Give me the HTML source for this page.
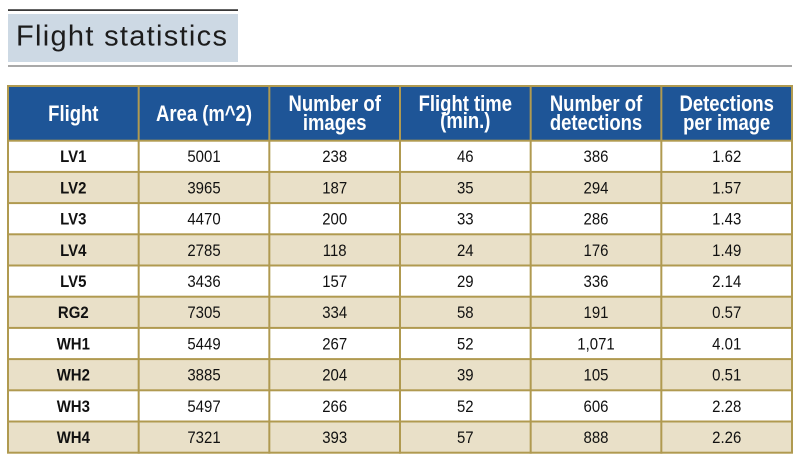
<!DOCTYPE html>
<html>
<head>
<meta charset="utf-8">
<style>
  html,body{margin:0;padding:0;background:#ffffff;}
  body{width:800px;height:461px;overflow:hidden;}
  svg{display:block;}
  .h{font-family:"Liberation Sans",Arial,sans-serif;font-weight:bold;font-size:22px;fill:#ffffff;}
  .b{font-family:"Liberation Sans",Arial,sans-serif;font-size:17px;fill:#111111;}
  .f{font-family:"Liberation Sans",Arial,sans-serif;font-weight:bold;font-size:17px;fill:#111111;}
  .t{font-family:"Liberation Sans",Arial,sans-serif;font-size:29px;fill:#1c1c1c;letter-spacing:1.3px;}
</style>
</head>
<body>
<svg width="800" height="461" viewBox="0 0 800 461" xmlns="http://www.w3.org/2000/svg">
  <!-- title -->
  <rect x="8" y="9.3" width="230" height="1.6" fill="#222222"/>
  <rect x="8" y="14" width="230" height="48" fill="#cdd9e4"/>
  <text class="t" x="16" y="45.5">Flight statistics</text>
  <rect x="8" y="65" width="784" height="2" fill="#a9a9a9"/>

  <!-- table background (gold grid) -->
  <rect x="7" y="85" width="786" height="368.7" fill="#b09a50"/>
  <!-- header -->
  <rect x="9" y="87" width="782" height="52.7" fill="#1e5597"/>
  <!-- rows -->
  <rect x="9" y="141.7" width="782" height="29.2" fill="#ffffff"/>
  <rect x="9" y="172.9" width="782" height="29.2" fill="#e9e0c8"/>
  <rect x="9" y="204.1" width="782" height="29.2" fill="#ffffff"/>
  <rect x="9" y="235.3" width="782" height="29.2" fill="#e9e0c8"/>
  <rect x="9" y="266.5" width="782" height="29.2" fill="#ffffff"/>
  <rect x="9" y="297.7" width="782" height="29.2" fill="#e9e0c8"/>
  <rect x="9" y="328.9" width="782" height="29.2" fill="#ffffff"/>
  <rect x="9" y="360.1" width="782" height="29.2" fill="#e9e0c8"/>
  <rect x="9" y="391.3" width="782" height="29.2" fill="#ffffff"/>
  <rect x="9" y="422.5" width="782" height="29.2" fill="#e9e0c8"/>
  <!-- vertical lines -->
  <rect x="137.67" y="85" width="2" height="368.7" fill="#b09a50"/>
  <rect x="268.33" y="85" width="2" height="368.7" fill="#b09a50"/>
  <rect x="399" y="85" width="2" height="368.7" fill="#b09a50"/>
  <rect x="529.67" y="85" width="2" height="368.7" fill="#b09a50"/>
  <rect x="660.33" y="85" width="2" height="368.7" fill="#b09a50"/>

  <!-- header text -->
  <text class="h" text-anchor="middle" transform="translate(73.3,121) scale(0.84,1)">Flight</text>
  <text class="h" text-anchor="middle" transform="translate(204,121) scale(0.84,1)">Area (m^2)</text>
  <text class="h" text-anchor="middle" transform="translate(334.7,111) scale(0.84,1)">Number of</text>
  <text class="h" text-anchor="middle" transform="translate(334.7,130) scale(0.84,1)">images</text>
  <text class="h" text-anchor="middle" transform="translate(465.3,111) scale(0.84,1)">Flight time</text>
  <text class="h" text-anchor="middle" transform="translate(465.3,128) scale(0.84,1)">(min.)</text>
  <text class="h" text-anchor="middle" transform="translate(596,111) scale(0.84,1)">Number of</text>
  <text class="h" text-anchor="middle" transform="translate(596,130) scale(0.84,1)">detections</text>
  <text class="h" text-anchor="middle" transform="translate(726.7,111) scale(0.84,1)">Detections</text>
  <text class="h" text-anchor="middle" transform="translate(726.7,130) scale(0.84,1)">per image</text>

  <g>
  <text class="f" text-anchor="middle" transform="translate(73.3,162.2) scale(0.88,1)">LV1</text>
  <text class="b" text-anchor="middle" transform="translate(204,162.2) scale(0.88,1)">5001</text>
  <text class="b" text-anchor="middle" transform="translate(334.7,162.2) scale(0.88,1)">238</text>
  <text class="b" text-anchor="middle" transform="translate(465.3,162.2) scale(0.88,1)">46</text>
  <text class="b" text-anchor="middle" transform="translate(596,162.2) scale(0.88,1)">386</text>
  <text class="b" text-anchor="middle" transform="translate(726.7,162.2) scale(0.88,1)">1.62</text>
  </g>
  <g>
  <text class="f" text-anchor="middle" transform="translate(73.3,193.4) scale(0.88,1)">LV2</text>
  <text class="b" text-anchor="middle" transform="translate(204,193.4) scale(0.88,1)">3965</text>
  <text class="b" text-anchor="middle" transform="translate(334.7,193.4) scale(0.88,1)">187</text>
  <text class="b" text-anchor="middle" transform="translate(465.3,193.4) scale(0.88,1)">35</text>
  <text class="b" text-anchor="middle" transform="translate(596,193.4) scale(0.88,1)">294</text>
  <text class="b" text-anchor="middle" transform="translate(726.7,193.4) scale(0.88,1)">1.57</text>
  </g>
  <g>
  <text class="f" text-anchor="middle" transform="translate(73.3,224.6) scale(0.88,1)">LV3</text>
  <text class="b" text-anchor="middle" transform="translate(204,224.6) scale(0.88,1)">4470</text>
  <text class="b" text-anchor="middle" transform="translate(334.7,224.6) scale(0.88,1)">200</text>
  <text class="b" text-anchor="middle" transform="translate(465.3,224.6) scale(0.88,1)">33</text>
  <text class="b" text-anchor="middle" transform="translate(596,224.6) scale(0.88,1)">286</text>
  <text class="b" text-anchor="middle" transform="translate(726.7,224.6) scale(0.88,1)">1.43</text>
  </g>
  <g>
  <text class="f" text-anchor="middle" transform="translate(73.3,255.8) scale(0.88,1)">LV4</text>
  <text class="b" text-anchor="middle" transform="translate(204,255.8) scale(0.88,1)">2785</text>
  <text class="b" text-anchor="middle" transform="translate(334.7,255.8) scale(0.88,1)">118</text>
  <text class="b" text-anchor="middle" transform="translate(465.3,255.8) scale(0.88,1)">24</text>
  <text class="b" text-anchor="middle" transform="translate(596,255.8) scale(0.88,1)">176</text>
  <text class="b" text-anchor="middle" transform="translate(726.7,255.8) scale(0.88,1)">1.49</text>
  </g>
  <g>
  <text class="f" text-anchor="middle" transform="translate(73.3,287) scale(0.88,1)">LV5</text>
  <text class="b" text-anchor="middle" transform="translate(204,287) scale(0.88,1)">3436</text>
  <text class="b" text-anchor="middle" transform="translate(334.7,287) scale(0.88,1)">157</text>
  <text class="b" text-anchor="middle" transform="translate(465.3,287) scale(0.88,1)">29</text>
  <text class="b" text-anchor="middle" transform="translate(596,287) scale(0.88,1)">336</text>
  <text class="b" text-anchor="middle" transform="translate(726.7,287) scale(0.88,1)">2.14</text>
  </g>
  <g>
  <text class="f" text-anchor="middle" transform="translate(73.3,318.2) scale(0.88,1)">RG2</text>
  <text class="b" text-anchor="middle" transform="translate(204,318.2) scale(0.88,1)">7305</text>
  <text class="b" text-anchor="middle" transform="translate(334.7,318.2) scale(0.88,1)">334</text>
  <text class="b" text-anchor="middle" transform="translate(465.3,318.2) scale(0.88,1)">58</text>
  <text class="b" text-anchor="middle" transform="translate(596,318.2) scale(0.88,1)">191</text>
  <text class="b" text-anchor="middle" transform="translate(726.7,318.2) scale(0.88,1)">0.57</text>
  </g>
  <g>
  <text class="f" text-anchor="middle" transform="translate(73.3,349.4) scale(0.88,1)">WH1</text>
  <text class="b" text-anchor="middle" transform="translate(204,349.4) scale(0.88,1)">5449</text>
  <text class="b" text-anchor="middle" transform="translate(334.7,349.4) scale(0.88,1)">267</text>
  <text class="b" text-anchor="middle" transform="translate(465.3,349.4) scale(0.88,1)">52</text>
  <text class="b" text-anchor="middle" transform="translate(596,349.4) scale(0.88,1)">1,071</text>
  <text class="b" text-anchor="middle" transform="translate(726.7,349.4) scale(0.88,1)">4.01</text>
  </g>
  <g>
  <text class="f" text-anchor="middle" transform="translate(73.3,380.6) scale(0.88,1)">WH2</text>
  <text class="b" text-anchor="middle" transform="translate(204,380.6) scale(0.88,1)">3885</text>
  <text class="b" text-anchor="middle" transform="translate(334.7,380.6) scale(0.88,1)">204</text>
  <text class="b" text-anchor="middle" transform="translate(465.3,380.6) scale(0.88,1)">39</text>
  <text class="b" text-anchor="middle" transform="translate(596,380.6) scale(0.88,1)">105</text>
  <text class="b" text-anchor="middle" transform="translate(726.7,380.6) scale(0.88,1)">0.51</text>
  </g>
  <g>
  <text class="f" text-anchor="middle" transform="translate(73.3,411.8) scale(0.88,1)">WH3</text>
  <text class="b" text-anchor="middle" transform="translate(204,411.8) scale(0.88,1)">5497</text>
  <text class="b" text-anchor="middle" transform="translate(334.7,411.8) scale(0.88,1)">266</text>
  <text class="b" text-anchor="middle" transform="translate(465.3,411.8) scale(0.88,1)">52</text>
  <text class="b" text-anchor="middle" transform="translate(596,411.8) scale(0.88,1)">606</text>
  <text class="b" text-anchor="middle" transform="translate(726.7,411.8) scale(0.88,1)">2.28</text>
  </g>
  <g>
  <text class="f" text-anchor="middle" transform="translate(73.3,443) scale(0.88,1)">WH4</text>
  <text class="b" text-anchor="middle" transform="translate(204,443) scale(0.88,1)">7321</text>
  <text class="b" text-anchor="middle" transform="translate(334.7,443) scale(0.88,1)">393</text>
  <text class="b" text-anchor="middle" transform="translate(465.3,443) scale(0.88,1)">57</text>
  <text class="b" text-anchor="middle" transform="translate(596,443) scale(0.88,1)">888</text>
  <text class="b" text-anchor="middle" transform="translate(726.7,443) scale(0.88,1)">2.26</text>
  </g>
</svg>
</body>
</html>
